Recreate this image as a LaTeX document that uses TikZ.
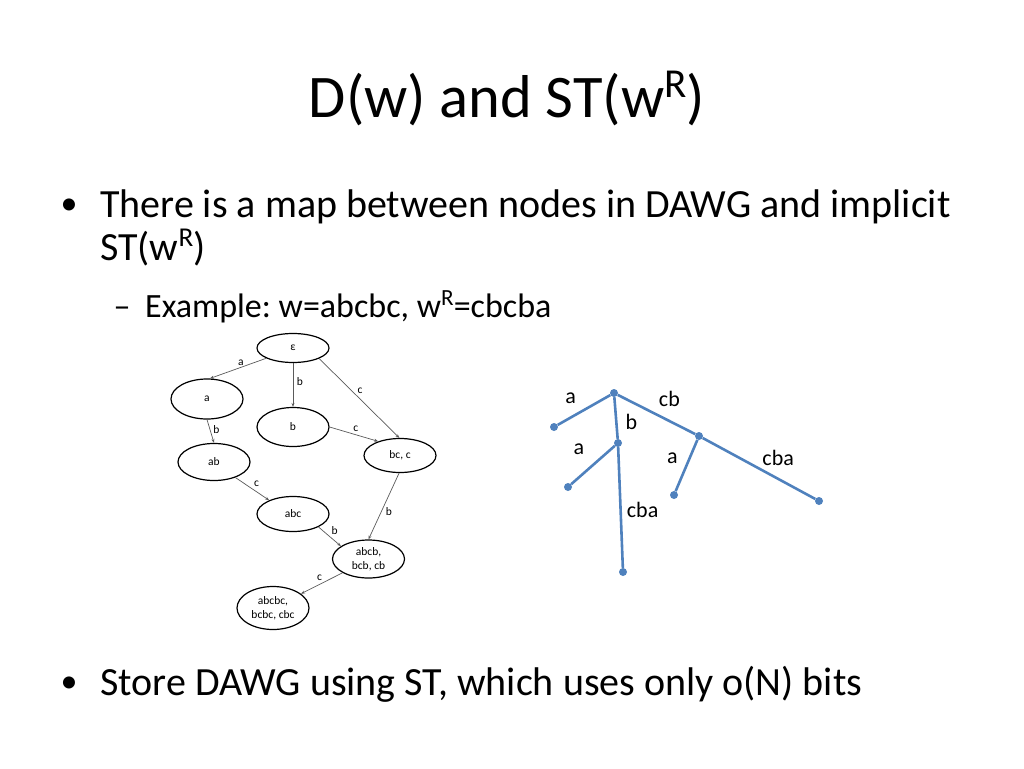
\documentclass[tikz,border=0pt]{standalone}
\usepackage{fontspec}
\setmainfont{Carlito}
\usetikzlibrary{shapes.geometric,arrows.meta,positioning}
\definecolor{stblue}{RGB}{79,129,189}
\definecolor{edgegray}{RGB}{90,90,90}
\newcommand{\supR}{\raisebox{.33em}{\scalebox{.68}{R}}}
\frenchspacing
\tikzset{
  state/.style={ellipse, draw, line width=1.2pt, minimum width=72pt,
    minimum height=37pt, inner sep=0pt, align=center,
    font=\fontsize{11.5}{14.5}\selectfont},
  trans/.style={draw=edgegray, line width=0.7pt, -{Stealth[length=4pt,width=3pt]}},
  tlabel/.style={font=\fontsize{11.5}{14}\selectfont, inner sep=0pt},
  dot/.style={circle, fill=stblue, inner sep=0pt, minimum size=8pt},
  branch/.style={draw=stblue, line width=2.6pt},
  blabel/.style={font=\fontsize{22}{26}\selectfont, inner sep=0pt},
  bigtext/.style={anchor=base west, inner sep=0pt, font=\fontsize{40}{48}\selectfont},
  subtext/.style={anchor=base west, inner sep=0pt, font=\fontsize{34}{41}\selectfont}
}
\begin{document}
\begin{tikzpicture}[x=1pt,y=-1pt]
\useasboundingbox (0,0) rectangle (1024,768);

% title and bullets
\node[anchor=base, inner sep=0pt, font=\fontsize{60.5}{72}\selectfont] (title) at (507,117)
  {D(w) and ST(w\supR)};
\node[bigtext, anchor=base, font=\fontsize{34}{40}\selectfont] (dot1) at (69,214) {•};
\node[bigtext] (line1) at (100,217) {There is a map between nodes in DAWG and implicit};
\node[bigtext] (line2) at (100,260) {ST(w\supR)};
\node[subtext, anchor=base] (dash1) at (122,317) {–};
\node[subtext] (line3) at (145,317) {Example: w=abcbc, w\supR=cbcba};
\node[bigtext, anchor=base, font=\fontsize{34}{40}\selectfont] (dot2) at (69,692) {•};
\node[bigtext] (line4) at (100,695) {Store DAWG using ST, which uses only o(N) bits};

% DAWG of w
\node[state, minimum height=29pt] (eps) at (293,348) {ε};
\node[state, minimum height=40pt] (a) at (207,399) {a};
\node[state, minimum height=39pt] (b) at (293,427) {b};
\node[state, minimum height=34pt] (bc) at (400,455.5) {bc, c};
\node[state] (ab) at (214,462) {ab};
\node[state, minimum height=35pt] (abc) at (293,514) {abc};
\node[state, minimum height=38pt] (abcb) at (368.5,559) {abcb,\\bcb, cb};
\node[state, minimum height=43pt] (abcbc) at (273,608) {abcbc,\\bcbc, cbc};

\draw[trans] (eps.201) -- node[tlabel, pos=.45, yshift=4.5pt] {a} (a.82);
\draw[trans] (eps.south) -- node[tlabel, pos=.43, xshift=7pt] {b} (b.north);
\draw[trans] (eps.338) -- node[tlabel, pos=.46, xshift=4pt, yshift=4.5pt] {c} (bc.92);
\draw[trans] (b.east) -- node[tlabel, pos=.51, xshift=1.5pt, yshift=6pt] {c} (bc.147);
\draw[trans] (a.south) -- node[tlabel, pos=.41, xshift=6.5pt] {b} (ab.north);
\draw[trans] (ab.324) -- node[tlabel, pos=.51, xshift=4pt, yshift=5.5pt] {c} (abc.150);
\draw[trans] (abc.333) -- node[tlabel, pos=.5, xshift=5pt, yshift=6pt] {b} (abcb.155);
\draw[trans] (bc.267) -- node[tlabel, pos=.53, xshift=6pt, yshift=-3pt] {b} (abcb.north);
\draw[trans] (abcb.208) -- node[tlabel, pos=.48, xshift=-3pt, yshift=5.5pt] {c} (abcbc.27);

% implicit ST(w^R)
\node[dot] (root) at (614,393) {};
\node[dot] (la) at (554,427) {};
\node[dot] (nb) at (618,443) {};
\node[dot] (lba) at (568,487) {};
\node[dot] (lbcba) at (623,572) {};
\node[dot] (ncb) at (699,436) {};
\node[dot] (lcba) at (674,495) {};
\node[dot] (lcbcba) at (819,501) {};

\draw[branch] (root) -- node[blabel, pos=.6, xshift=-8pt, yshift=15pt] {a} (la);
\draw[branch] (root) -- node[blabel, pos=.6, xshift=15pt] {b} (nb);
\draw[branch] (root) -- node[blabel, pos=.55, xshift=9pt, yshift=18pt] {cb} (ncb);
\draw[branch] (nb) -- node[blabel, pos=.5, xshift=-14pt, yshift=16pt] {a} (lba);
\draw[branch] (nb) -- node[blabel, pos=.52, xshift=22pt] {cba} (lbcba);
\draw[branch] (ncb) -- node[blabel, pos=.48, xshift=-14.5pt, yshift=6pt] {a} (lcba);
\draw[branch] (ncb) -- node[blabel, pos=.59, xshift=9pt, yshift=16pt] {cba} (lcbcba);
\end{tikzpicture}
\end{document}
